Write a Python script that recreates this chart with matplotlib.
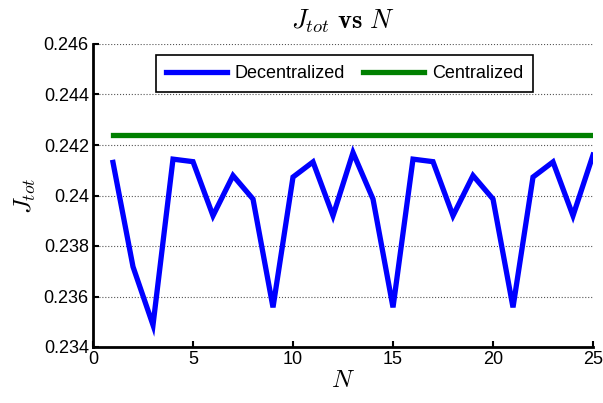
import matplotlib

matplotlib.use("Agg")
import matplotlib.pyplot as plt  # noqa: E402

plt.rcParams["font.family"] = ["Liberation Sans", "DejaVu Sans"]
plt.rcParams["mathtext.fontset"] = "cm"

N = list(range(1, 26))
J_decentralized = [0.24131, 0.23718, 0.23487, 0.24144, 0.24134, 0.2392, 0.24079,
                   0.23986, 0.23557, 0.24073, 0.24133, 0.2392, 0.2417, 0.23986,
                   0.23557, 0.24144, 0.24134, 0.2392, 0.24079, 0.23986, 0.23557,
                   0.24073, 0.24133, 0.2392, 0.2416]
J_centralized = [0.2424] * len(N)

fig = plt.figure(figsize=(6.03, 4.03), dpi=100)
ax = fig.add_axes([93 / 603, 1 - 347 / 403, 500 / 603, 303 / 403])

ax.plot(N, J_decentralized, color="#0000ff", lw=3.8, label="Decentralized",
        solid_joinstyle="miter")
ax.plot(N, J_centralized, color="#008000", lw=3.8, label="Centralized")

ax.set_xlim(0, 25)
ax.set_ylim(0.234, 0.246)
ax.set_xticks([0, 5, 10, 15, 20, 25])
ax.set_yticks([0.234, 0.236, 0.238, 0.240, 0.242, 0.244, 0.246])
ax.set_yticklabels(["0.234", "0.236", "0.238", "0.24", "0.242", "0.244", "0.246"])
ax.tick_params(direction="in", labelsize=13, width=1.5, length=4, pad=3)
ax.grid(axis="y", ls=":", color="#555555", lw=0.8)
for s in ("top", "right"):
    ax.spines[s].set_visible(False)
for s in ("left", "bottom"):
    ax.spines[s].set_linewidth(2)

ax.set_xlabel("$N$", fontsize=18, labelpad=0)
ax.set_ylabel("$J_{tot}$", fontsize=18, labelpad=4)
ax.set_title(r"$J_{tot}\ \mathbf{vs}\ N$", fontsize=19, pad=11)

leg = ax.legend(ncol=2, loc="upper center", bbox_to_anchor=(0.503, 0.964),
                borderaxespad=0, fontsize=13, fancybox=False, framealpha=1,
                edgecolor="black", handlelength=3.4, columnspacing=1.0,
                handletextpad=0.4, borderpad=0.57)
leg.get_frame().set_linewidth(1.2)

fig.savefig("out.png", dpi=100)
